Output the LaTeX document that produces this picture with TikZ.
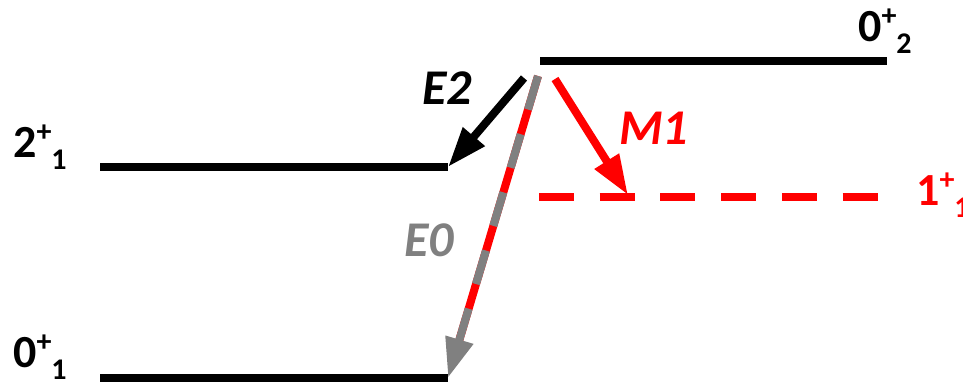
\documentclass[tikz,border=0pt]{standalone}
\usepackage{fontspec}
\setmainfont{Carlito}
\usepackage{tikz}
\usetikzlibrary{arrows.meta,calc}
\definecolor{mred}{RGB}{255,0,0}
\definecolor{egray}{RGB}{128,128,128}
\newcommand{\lvl}[2]{#1\raisebox{16pt}{\fontsize{30}{30}\selectfont +}\raisebox{-12pt}{\fontsize{30}{30}\selectfont #2}}

\begin{document}
\begin{tikzpicture}[x=1pt, y=-1pt,
    level/.style={line width=8.5pt},
    lab/.style={anchor=base west, inner sep=0pt, font=\fontsize{46}{50}\selectfont\bfseries},
    trans/.style={anchor=base west, inner sep=0pt, font=\fontsize{50}{54}\selectfont\bfseries\itshape},
    tip/.style={-{Triangle[length=40pt, width=27pt]}, line width=8pt}]
    \useasboundingbox (0,0) rectangle (963,387);

    % levels
    \coordinate (g1l) at (100,378);  \coordinate (g1r) at (448,378);
    \coordinate (e1l) at (100,167);  \coordinate (e1r) at (448,167);
    \coordinate (g2l) at (540,61);   \coordinate (g2r) at (887,61);
    \coordinate (m1l) at (539,197);  \coordinate (m1r) at (880,197);
    \draw[level] (g1l) -- (g1r);
    \draw[level] (e1l) -- (e1r);
    \draw[level] (g2l) -- (g2r);
    \draw[level, mred, dash pattern=on 35pt off 25.7pt] (m1l) -- (m1r);

    \node[lab] (g1lab) at (13,367) {\lvl{0}{1}};
    \node[lab] (e1lab) at (13,158) {\lvl{2}{1}};
    \node[lab] (g2lab) at (858,42) {\lvl{0}{2}};
    \node[lab, mred] (m1lab) at (916,206) {\lvl{1}{1}};

    % transitions
    \coordinate (e2top) at (524,78);
    \coordinate (m1top) at (555,79);
    \coordinate (m1end) at (628,195);
    \coordinate (e0top) at (538,76);
    \draw[tip] (e2top) -- (e1r);
    \draw[tip, mred] (m1top) -- (m1end);
    \draw[line width=8pt, mred] (e0top) -- ($(g1r)!40pt!(e0top)$);
    \draw[tip, egray, dash pattern=on 35pt off 25.7pt] (e0top) -- (g1r);

    \node[trans] (e2lab) at (422,105) {E2};
    \node[trans, mred] (m1txt) at (619,145) {M1};
    \node[trans, egray] (e0lab) at (404,257) {E0};
\end{tikzpicture}
\end{document}
